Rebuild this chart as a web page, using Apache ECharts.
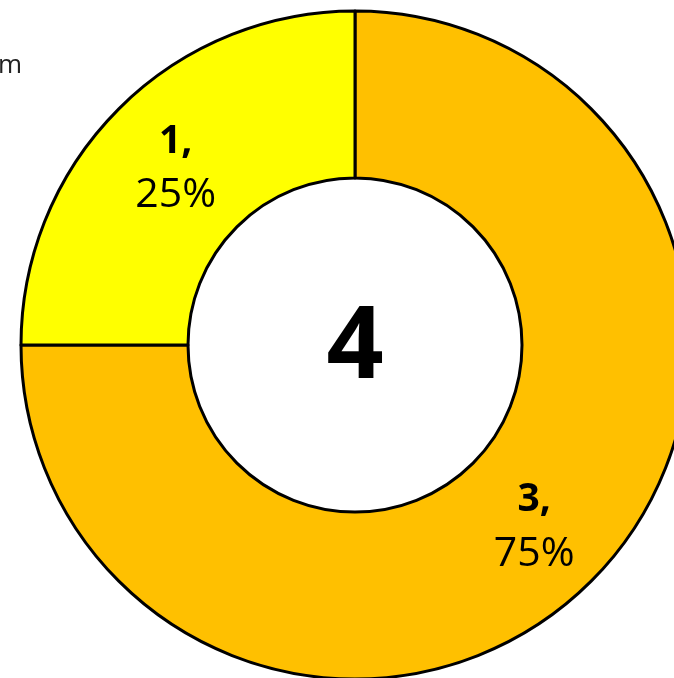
<!DOCTYPE html>
<html><head><meta charset="utf-8">
<script src="https://cdn.jsdelivr.net/npm/echarts@6/dist/echarts.min.js"></script>
<style>html,body{margin:0;padding:0;background:#fff;}#c{width:674px;height:678px;}</style>
</head><body><div id="c"></div>
<script>
const categories = ['3', '1'];
const values = [3, 1];
const colors = ['#FFC000', '#FFFF00'];
const total = values.reduce((a, b) => a + b, 0);
const chart = echarts.init(document.getElementById('c'));
const FONT = '"Open Sans", Lato, sans-serif';
chart.setOption({
  animation: false,
  graphic: [
    { type: 'text', x: -2, y: 66, style: { text: 'm', fontSize: 26, fontFamily: FONT, fill: '#222', verticalAlign: 'middle' } },
    { type: 'text', x: 355, y: 350, style: { text: String(total), fontSize: 100, fontWeight: 'bold', fontFamily: FONT, fill: '#000', align: 'center', verticalAlign: 'middle' } }
  ],
  series: [{
    type: 'pie',
    center: [355, 345],
    radius: [167, 334],
    startAngle: 90,
    clockwise: true,
    itemStyle: { borderColor: '#000', borderWidth: 3 },
    label: {
      position: 'inside',
      offset: [0, 3],
      formatter: p => '{b|' + p.name + ',}\n{c|' + Math.round(p.percent) + '%}',
      rich: {
        b: { fontSize: 39, fontWeight: 'bold', fontFamily: FONT, color: '#000', lineHeight: 54 },
        c: { fontSize: 41, fontFamily: FONT, color: '#000', lineHeight: 54 }
      }
    },
    labelLine: { show: false },
    emphasis: { disabled: true },
    data: categories.map((c, i) => ({ name: c, value: values[i], itemStyle: { color: colors[i] } }))
  }]
});
</script></body></html>
